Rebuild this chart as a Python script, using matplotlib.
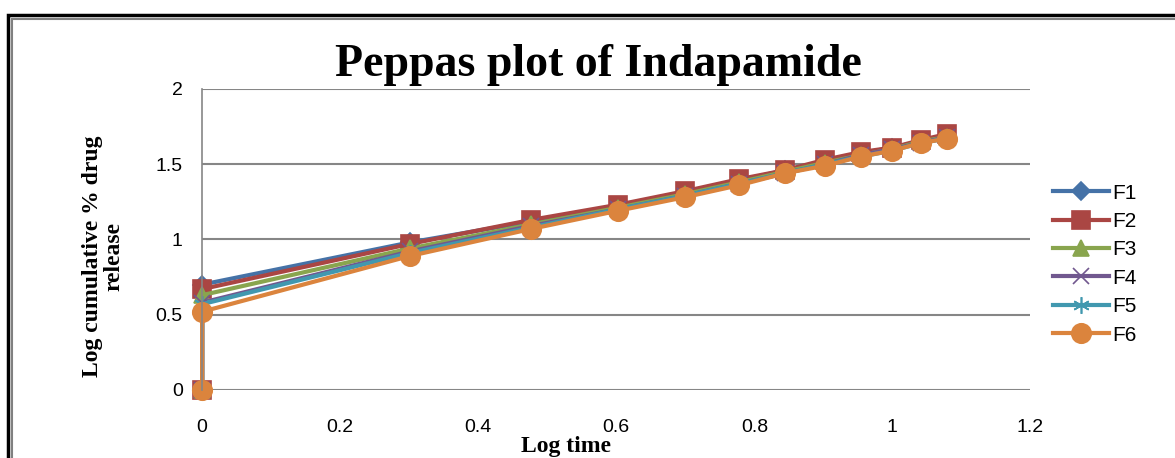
#!/usr/bin/env python3

import matplotlib as mpl
mpl.use('Agg')
import matplotlib.pyplot as plt
from matplotlib.patches import Rectangle

# log time (first point is time zero plotted at 0)
log_time = [0, 0, 0.301, 0.477, 0.602, 0.699, 0.778, 0.845, 0.903, 0.954,
            1.0, 1.041, 1.079]

F1 = [0, 0.70, 0.98, 1.12, 1.22, 1.31, 1.39, 1.46, 1.52, 1.57, 1.61, 1.65, 1.69]
F2 = [0, 0.67, 0.97, 1.13, 1.23, 1.32, 1.40, 1.46, 1.53, 1.58, 1.61, 1.66, 1.70]
F3 = [0, 0.63, 0.94, 1.10, 1.21, 1.30, 1.38, 1.45, 1.51, 1.56, 1.60, 1.65, 1.68]
F4 = [0, 0.58, 0.92, 1.09, 1.20, 1.29, 1.37, 1.44, 1.50, 1.56, 1.60, 1.64, 1.68]
F5 = [0, 0.57, 0.91, 1.08, 1.20, 1.29, 1.37, 1.44, 1.50, 1.55, 1.59, 1.64, 1.67]
F6 = [0, 0.52, 0.89, 1.07, 1.19, 1.28, 1.36, 1.44, 1.49, 1.55, 1.59, 1.64, 1.67]

labels = ['F1', 'F2', 'F3', 'F4', 'F5', 'F6']
series = [F1, F2, F3, F4, F5, F6]
colors = ['#4572A7', '#AA4643', '#89A54E', '#71588F', '#4198AF', '#DB843D']
markers = ['D', 's', '^', 'x', (6, 2, 0), 'o']
msizes = [9, 13, 12, 11, 12, 14]

fig = plt.figure(figsize=(11.75, 4.58), dpi=100)
ax = fig.add_axes([0.172, 0.1485, 0.705, 0.6575])

for lab, ys, c, m, ms in zip(labels, series, colors, markers, msizes):
    ax.plot(log_time, ys, color=c, marker=m, markersize=ms, linewidth=3,
            markeredgecolor=c, markeredgewidth=1.2, label=lab,
            clip_on=False)

ax.set_xlim(0, 1.2)
ax.set_ylim(0, 2)
ax.set_xticks([0, 0.2, 0.4, 0.6, 0.8, 1, 1.2])
ax.set_xticklabels(['0', '0.2', '0.4', '0.6', '0.8', '1', '1.2'])
ax.set_yticks([0, 0.5, 1, 1.5, 2])
ax.set_yticklabels(['0', '0.5', '1', '1.5', '2'])
ax.grid(axis='y', color='#868686', linewidth=1.5)
ax.set_axisbelow(True)
for s in ['top', 'right', 'bottom']:
    ax.spines[s].set_visible(False)
ax.spines['left'].set_color('#868686')
ax.spines['left'].set_linewidth(1.2)
ax.tick_params(axis='both', length=0, labelsize=14,
               labelfontfamily='Liberation Sans')
ax.tick_params(axis='x', pad=21)
ax.tick_params(axis='y', pad=14)

fig.text(0.509, 0.858, 'Peppas plot of Indapamide', ha='center',
         va='center', fontsize=33, fontweight='bold',
         family='Liberation Serif')
fig.text(0.482, 0.026, 'Log time', ha='center', va='center', fontsize=17,
         fontweight='bold', family='Liberation Serif')
fig.text(0.088, 0.44, 'Log cumulative % drug\nrelease', ha='center',
         va='center', rotation=90, fontsize=17, fontweight='bold',
         family='Liberation Serif', linespacing=1.0)

ax.legend(loc='upper left', bbox_to_anchor=(0.88, 0.64),
          bbox_transform=fig.transFigure, frameon=False,
          handlelength=2.7, labelspacing=0.45, handletextpad=0.15,
          prop={'family': 'Liberation Sans', 'size': 15})

# outer frame of the chart object
fig.patches.append(Rectangle((0.0065, -0.1), 1.2, 1.068, fill=False,
                             edgecolor='black', linewidth=2.5,
                             transform=fig.transFigure))
fig.patches.append(Rectangle((0.0105, -0.1), 1.2, 1.058, fill=False,
                             edgecolor='#808080', linewidth=1.5,
                             transform=fig.transFigure))

plt.savefig('out.png', dpi=100)
